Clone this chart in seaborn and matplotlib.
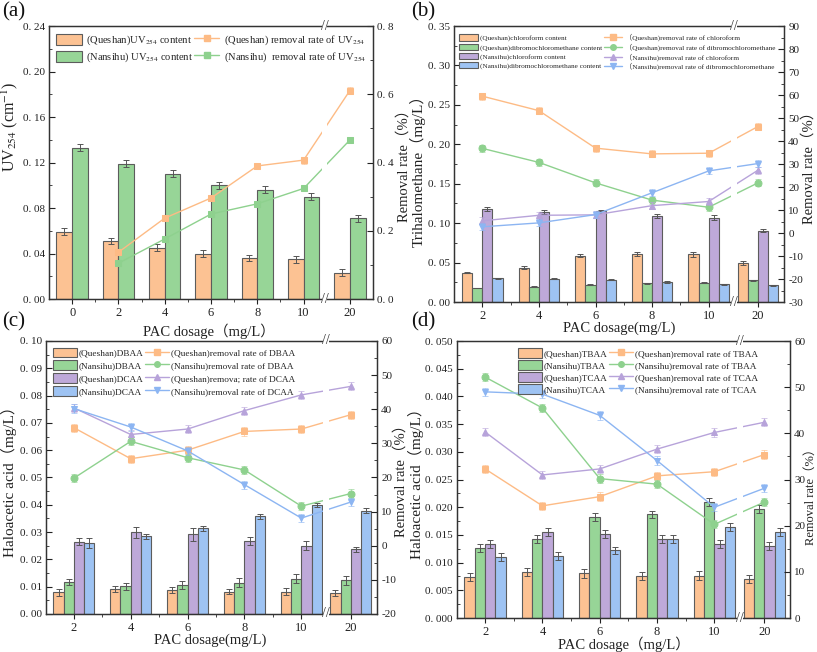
import numpy as np
import pandas as pd
import seaborn as sns
import matplotlib
matplotlib.use("Agg")
import matplotlib.pyplot as plt
from matplotlib.patches import Patch, Rectangle
from matplotlib.lines import Line2D
from matplotlib.ticker import FuncFormatter, MultipleLocator, FixedLocator
import matplotlib.transforms as mtrans

# ---------------- data ----------------
dose_a = ["0", "2", "4", "6", "8", "10", "20"]
uv_q = [0.059, 0.051, 0.045, 0.040, 0.036, 0.035, 0.023]
uv_q_err = [0.003, 0.003, 0.003, 0.003, 0.003, 0.003, 0.003]
uv_n = [0.133, 0.119, 0.110, 0.100, 0.096, 0.090, 0.071]
uv_n_err = [0.003, 0.003, 0.003, 0.003, 0.003, 0.003, 0.003]
uv_rr_q = [np.nan, 0.137, 0.237, 0.296, 0.390, 0.407, 0.611]
uv_rr_q_err = [np.nan, 0.008, 0.008, 0.008, 0.008, 0.010, 0.010]
uv_rr_n = [np.nan, 0.105, 0.176, 0.249, 0.279, 0.324, 0.466]
uv_rr_n_err = [np.nan, 0.008, 0.008, 0.008, 0.008, 0.008, 0.010]

dose = ["2", "4", "6", "8", "10", "20"]
# panel b (trihalomethanes)
q_tcm = [0.0372, 0.0436, 0.0585, 0.0610, 0.0605, 0.0495]
q_tcm_err = [0.001, 0.002, 0.002, 0.003, 0.003, 0.002]
q_dbcm = [0.0178, 0.0195, 0.0220, 0.0237, 0.0245, 0.0275]
q_dbcm_err = [0.0005, 0.0008, 0.0008, 0.001, 0.001, 0.0008]
n_tcm = [0.118, 0.114, 0.115, 0.109, 0.107, 0.0906]
n_tcm_err = [0.002, 0.003, 0.002, 0.003, 0.003, 0.0015]
n_dbcm = [0.0300, 0.0296, 0.0284, 0.0254, 0.0224, 0.0212]
n_dbcm_err = [0.001, 0.001, 0.001, 0.001, 0.001, 0.001]
rr_q_tcm = [59.5, 53.2, 36.9, 34.4, 34.7, 46.3]
rr_q_dbcm = [36.8, 30.7, 21.8, 14.3, 11.2, 21.8]
rr_n_tcm = [5.3, 7.7, 7.9, 11.9, 13.7, 27.3]
rr_n_dbcm = [2.7, 4.4, 8.0, 17.5, 27.0, 30.2]
rr_b_err = [1.5, 1.5, 1.5, 1.5, 1.5, 1.5]

# panel c (DBAA / DCAA)
q_dbaa = [0.0080, 0.0092, 0.0088, 0.0082, 0.0081, 0.0077]
q_dbaa_err = [0.0013, 0.0011, 0.0012, 0.0010, 0.0013, 0.0011]
n_dbaa = [0.0117, 0.0101, 0.0107, 0.0114, 0.0129, 0.0123]
n_dbaa_err = [0.0011, 0.0013, 0.0015, 0.0016, 0.0017, 0.0015]
q_dcaa = [0.0265, 0.0300, 0.0292, 0.0267, 0.0250, 0.0237]
q_dcaa_err = [0.0012, 0.0020, 0.0023, 0.0014, 0.0017, 0.0010]
n_dcaa = [0.0260, 0.0284, 0.0314, 0.0358, 0.0400, 0.0378]
n_dcaa_err = [0.0020, 0.0009, 0.0010, 0.0009, 0.0008, 0.0009]
rr_q_dbaa = [34.6, 25.5, 28.0, 33.5, 34.2, 38.4]
rr_n_dbaa = [19.8, 30.6, 25.8, 22.2, 11.6, 15.3]
rr_q_dcaa = [40.4, 32.6, 34.2, 39.6, 44.2, 46.7]
rr_n_dcaa = [40.2, 34.8, 27.8, 17.9, 8.1, 12.8]
rr_c_err = [1.2, 1.2, 1.2, 1.2, 1.2, 1.2]

# panel d (TBAA / TCAA)
q_tbaa = [0.0074, 0.0083, 0.0081, 0.0076, 0.0076, 0.0071]
q_tbaa_err = [0.0008, 0.0008, 0.0008, 0.0007, 0.0008, 0.0007]
n_tbaa = [0.0126, 0.0143, 0.0183, 0.0187, 0.0210, 0.0197]
n_tbaa_err = [0.0007, 0.0007, 0.0007, 0.0007, 0.0007, 0.0007]
q_tcaa = [0.0134, 0.0155, 0.0152, 0.0142, 0.0134, 0.0130]
q_tcaa_err = [0.0007, 0.0007, 0.0007, 0.0007, 0.0007, 0.0007]
n_tcaa = [0.0110, 0.0112, 0.0122, 0.0142, 0.0165, 0.0155]
n_tcaa_err = [0.0007, 0.0007, 0.0007, 0.0007, 0.0007, 0.0007]
rr_q_tbaa = [32.3, 24.3, 26.3, 30.8, 31.7, 35.4]
rr_n_tbaa = [52.2, 45.5, 30.2, 29.0, 20.3, 25.1]
rr_q_tcaa = [40.3, 31.0, 32.3, 36.6, 40.2, 42.4]
rr_n_tcaa = [49.0, 48.5, 43.9, 34.1, 24.0, 28.1]
rr_d_err = [0.9, 0.9, 0.9, 0.9, 0.9, 0.9]

# ---------------- style ----------------
sns.set_theme(style="white")
plt.rcParams['font.family'] = ['Liberation Serif', 'Noto Sans CJK SC', 'DejaVu Sans']
plt.rcParams['mathtext.fontset'] = 'stix'
plt.rcParams['axes.unicode_minus'] = False

C_OR, C_GR, C_PU, C_BL = '#FCC293', '#97D597', '#BEA9D9', '#9EC3F3'
L_OR, L_GR, L_PU, L_BL = '#FDBB85', '#8ED18E', '#B7A3DA', '#8CB5F2'
EDGE = '#5c5c5c'
TXT = '#222222'

fig = plt.figure(figsize=(8.17, 6.52), dpi=100)


def fmt_dec(nd):
    return FuncFormatter(lambda v, p: f"{v:.{nd}f}".replace('.', '. '))


def int_fmt():
    return FuncFormatter(lambda v, p: f"{int(round(v))}")


def panel(rect, pos, labels, bars, lines, width, offsets, ylim, ymaj, ymin, yfmt,
          ylim2, ymaj2, ymin2, y2fmt, brk, xlim, ylabel, xlabel, leg, lab_xy,
          ylab_fs=11, rlab_fs=10.5):
    ax = fig.add_axes(rect)
    ax2 = ax.twinx()
    pos = np.asarray(pos, dtype=float)
    for (lab, vals, err, col), off in zip(bars, offsets):
        ax.bar(pos + off, vals, width=width, color=col, edgecolor=EDGE,
               linewidth=0.8, label=lab, zorder=2)
        ax.errorbar(pos + off, vals, yerr=err, fmt='none', ecolor='#555555',
                    elinewidth=0.7, capsize=2, capthick=0.7, zorder=3)
    for lab, vals, err, col, mk in lines:
        df = pd.DataFrame({'x': pos, 'y': vals}).dropna()
        sns.lineplot(data=df, x='x', y='y', ax=ax2, color=col, marker=mk,
                     markersize=5, markeredgecolor=col, linewidth=1.0,
                     estimator=None, sort=False, zorder=4)
        ax2.errorbar(pos, vals, yerr=err, fmt='none', ecolor=col, alpha=0.6,
                     elinewidth=0.7, capsize=2, capthick=0.7, zorder=4)
    ax.set_xlim(*xlim)
    ax.set_ylim(*ylim)
    ax2.set_ylim(*ylim2)
    ax.set_xticks(pos)
    ax.set_xticklabels(labels, fontsize=9)
    mids = [(pos[i] + pos[i + 1]) / 2 for i in range(len(pos) - 2)]
    ax.xaxis.set_minor_locator(FixedLocator(mids))
    ax.yaxis.set_major_locator(MultipleLocator(ymaj))
    ax.yaxis.set_minor_locator(MultipleLocator(ymin))
    ax.yaxis.set_major_formatter(yfmt)
    ax2.yaxis.set_major_locator(MultipleLocator(ymaj2))
    ax2.yaxis.set_minor_locator(MultipleLocator(ymin2))
    ax2.yaxis.set_major_formatter(y2fmt)
    ax.tick_params(axis='x', which='major', direction='out', length=3.5, width=0.8,
                   pad=2, bottom=True, colors=TXT)
    ax.tick_params(axis='x', which='minor', direction='out', length=2, width=0.6, bottom=True)
    ax.tick_params(axis='y', which='major', direction='in', length=4, width=0.8,
                   labelsize=8, pad=3, left=True, colors=TXT)
    ax.tick_params(axis='y', which='minor', direction='in', length=2, width=0.6, left=True)
    ax2.tick_params(axis='y', which='major', direction='in', length=4, width=0.8,
                    labelsize=8, pad=3, right=True, colors=TXT)
    ax2.tick_params(axis='y', which='minor', direction='in', length=2, width=0.6, right=True)
    for a in (ax, ax2):
        for s in a.spines.values():
            s.set_color('#333333')
            s.set_linewidth(0.9)
    (xlx, xly), (ylx, yly), (rlx, rly) = lab_xy
    ax.set_xlabel(xlabel, fontsize=10.5, color=TXT)
    ax.xaxis.set_label_coords(xlx, xly)
    ax.set_ylabel(ylabel, fontsize=ylab_fs, color=TXT)
    ax.yaxis.set_label_coords(ylx, yly)
    ax2.set_ylabel('Removal rate（%）', fontsize=rlab_fs, color=TXT)
    ax2.yaxis.set_label_coords(rlx, rly)
    ax2.set_xlabel('')
    # axis break
    tr = mtrans.blended_transform_factory(ax2.transData, ax2.transAxes)
    ax2.add_patch(Rectangle((brk - 0.05, -0.02), 0.1, 1.04, transform=tr,
                            facecolor='white', edgecolor='none', clip_on=False, zorder=10))
    for yy in (0.0, 1.0):
        ax2.text(brk, yy, '//', transform=tr, ha='center', va='center',
                 fontsize=10, color='#333333', zorder=11, clip_on=False)
    # legend
    handles = [Patch(facecolor=c, edgecolor=EDGE, linewidth=0.8, label=l) for l, v, e, c in bars]
    handles += [Line2D([], [], color=c, marker=m, markersize=4, linewidth=1.0, label=l)
                for l, v, e, c, m in lines]
    lg = ax2.legend(handles=handles, ncol=2, frameon=False, **leg)
    lg.set_zorder(12)
    return ax, ax2


# ---- panel (a)
panel([0.060, 0.5414, 0.3966, 0.4187], range(len(dose_a)), dose_a,
      [('(Queshan)UV$_{254}$ content', uv_q, uv_q_err, C_OR),
       ('(Nansihu) UV$_{254}$ content', uv_n, uv_n_err, C_GR)],
      [('(Queshan) removal rate of UV$_{254}$', uv_rr_q, uv_rr_q_err, L_OR, 's'),
       ('(Nansihu)  removal rate of UV$_{254}$', uv_rr_n, uv_rr_n_err, L_GR, 's')],
      0.34, [-0.17, 0.17], (0, 0.24), 0.04, 0.02, fmt_dec(2),
      (0, 0.8), 0.2, 0.1, fmt_dec(1), 5.45, (-0.5, 6.5),
      'UV$_{254}$ (cm$^{-1}$)', 'PAC dosage（mg/L）',
      dict(loc='upper left', bbox_to_anchor=(0.0, 1.0), fontsize=7.6,
           handlelength=2.4, handleheight=1.2, columnspacing=0.1,
           handletextpad=0.4, labelspacing=0.35, borderaxespad=0.3),
      ((0.494, -0.09), (-0.089, 0.63), (1.074, 0.5)), ylab_fs=11.5)

pos6 = [0, 1, 2, 3, 4, 4.87]
off4 = [-0.27, -0.09, 0.09, 0.27]

# ---- panel (b)
panel([0.5557, 0.5368, 0.4039, 0.4233], pos6, dose,
      [('(Queshan)chloroform content', q_tcm, q_tcm_err, C_OR),
       ('(Queshan)dibromochloromethane content', q_dbcm, q_dbcm_err, C_GR),
       ('(Nansihu)chloroform content', n_tcm, n_tcm_err, C_PU),
       ('(Nansihu)dibromochloromethane content', n_dbcm, n_dbcm_err, C_BL)],
      [('（Queshan)removal rate of chloroform', rr_q_tcm, rr_b_err, L_OR, 's'),
       ('（Queshan)removal rate of dibromochloromethane', rr_q_dbcm, rr_b_err, L_GR, 'o'),
       ('（Nansihu)removal rate of chloroform', rr_n_tcm, rr_b_err, L_PU, '^'),
       ('（Nansihu)removal rate of dibromochloromethane', rr_n_dbcm, rr_b_err, L_BL, 'v')],
      0.18, off4, (0, 0.35), 0.05, 0.025, fmt_dec(2),
      (-30, 90), 10, 5, int_fmt(), 4.45, (-0.5, 5.33),
      'Trihalomethane（mg/L）', 'PAC dosage(mg/L)',
      dict(loc='upper left', bbox_to_anchor=(0.0, 0.99), fontsize=5.2,
           handlelength=2.6, handleheight=1.0, columnspacing=0.2,
           handletextpad=0.3, labelspacing=0.3, borderaxespad=0.3),
      ((0.5, -0.07), (-0.085, 0.49), (1.055, 0.5)))

# ---- panel (c)
panel([0.0563, 0.0583, 0.4051, 0.4187], pos6, dose,
      [('(Queshan)DBAA', q_dbaa, q_dbaa_err, C_OR),
       ('(Nansihu)DBAA', n_dbaa, n_dbaa_err, C_GR),
       ('(Queshan)DCAA', q_dcaa, q_dcaa_err, C_PU),
       ('(Nansihu)DCAA', n_dcaa, n_dcaa_err, C_BL)],
      [('(Queshan)removal rate of DBAA', rr_q_dbaa, rr_c_err, L_OR, 's'),
       ('(Nansihu)removal rate of DBAA', rr_n_dbaa, rr_c_err, L_GR, 'o'),
       ('(Queshan)remova; rate of DCAA', rr_q_dcaa, rr_c_err, L_PU, '^'),
       ('(Nansihu)removal rate of DCAA', rr_n_dcaa, rr_c_err, L_BL, 'v')],
      0.18, off4, (0, 0.10), 0.01, 0.005, fmt_dec(2),
      (-20, 60), 10, 5, int_fmt(), 4.43, (-0.49, 5.33),
      'Haloacetic acid（mg/L）', 'PAC dosage(mg/L)',
      dict(loc='upper left', bbox_to_anchor=(0.0, 1.0), fontsize=6.7,
           handlelength=2.6, handleheight=1.25, columnspacing=0.1,
           handletextpad=0.25, labelspacing=0.3, borderaxespad=0.3),
      ((0.495, -0.072), (-0.088, 0.5), (1.051, 0.5)))

# ---- panel (d)
panel([0.5594, 0.0521, 0.4076, 0.4248], pos6, dose,
      [('(Queshan)TBAA', q_tbaa, q_tbaa_err, C_OR),
       ('(Nansihu)TBAA', n_tbaa, n_tbaa_err, C_GR),
       ('(Queshan)TCAA', q_tcaa, q_tcaa_err, C_PU),
       ('(Nansihu)TCAA', n_tcaa, n_tcaa_err, C_BL)],
      [('(Queshan)removal rate of TBAA', rr_q_tbaa, rr_d_err, L_OR, 's'),
       ('(Nansihu)removal rate of TBAA', rr_n_tbaa, rr_d_err, L_GR, 'o'),
       ('(Queshan)removal rate of TCAA', rr_q_tcaa, rr_d_err, L_PU, '^'),
       ('(Nansihu)removal rate of TCAA', rr_n_tcaa, rr_d_err, L_BL, 'v')],
      0.18, off4, (0, 0.05), 0.005, 0.0025, fmt_dec(3),
      (0, 60), 10, 5, int_fmt(), 4.45, (-0.49, 5.32),
      'Haloacetic acid（mg/L）', 'PAC dosage（mg/L）',
      dict(loc='upper left', bbox_to_anchor=(0.165, 0.995), fontsize=6.7,
           handlelength=2.6, handleheight=1.25, columnspacing=0.1,
           handletextpad=0.25, labelspacing=0.22, borderaxespad=0.2),
      ((0.5, -0.068), (-0.099, 0.5), (1.043, 0.45)), rlab_fs=9)

for txt, x, y in [('(a)', 0.003, 0.982), ('(b)', 0.503, 0.982),
                  ('(c)', 0.003, 0.506), ('(d)', 0.503, 0.506)]:
    fig.text(x, y, txt, fontsize=15, va='center', ha='left', color='#111111')

fig.savefig('out.png', dpi=100)
